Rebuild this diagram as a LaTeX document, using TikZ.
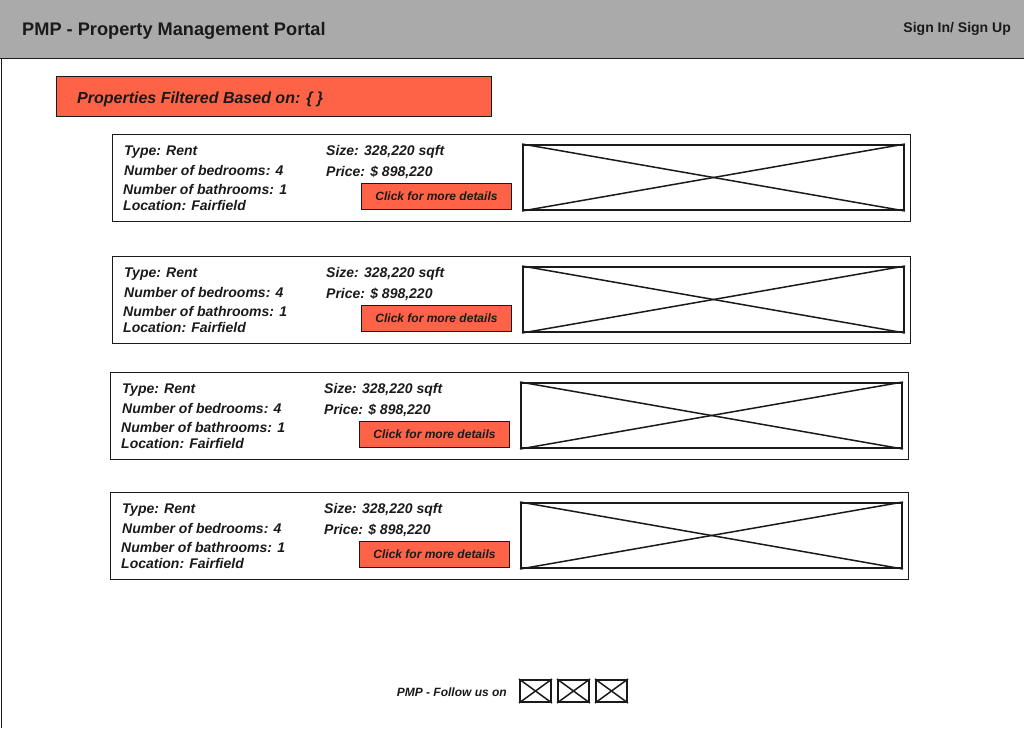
\documentclass[tikz,border=0pt]{standalone}
\usepackage{fontspec}
\setmainfont{Liberation Sans}
\usetikzlibrary{calc}
\usetikzlibrary{positioning}

\definecolor{hdrgray}{HTML}{AAAAAA}
\definecolor{tomato}{HTML}{FF6347}
\definecolor{ink}{HTML}{1A1A1A}

\tikzset{
  info/.style={anchor=west, inner sep=0pt, text=ink, font=\fontsize{14}{16}\selectfont\bfseries\itshape},
  detailbtn/.style={draw=ink, fill=tomato, line width=1pt, minimum width=150pt, minimum height=26pt, inner sep=0pt, text=ink, font=\fontsize{12}{14}\selectfont\bfseries\itshape},
  imgbox/.style={draw=ink, line width=2pt},
  cross/.style={draw=ink, line width=1.5pt}
}

\begin{document}
\begin{tikzpicture}[x=1pt, y=-1pt]
\useasboundingbox (0,0) rectangle (1024,728);

% header bar
\fill[hdrgray] (0,0) rectangle (1024,58);
\draw[ink, line width=1pt] (0,58) -- (1024,58);
\draw[ink, line width=1pt] (1,58) -- (1,728);
\node[anchor=west, inner sep=0pt, text=ink, font=\fontsize{18.2}{20}\selectfont\bfseries] (title) at (22,31) {PMP - Property Management Portal};
\node[anchor=east, inner sep=0pt, text=ink, font=\fontsize{14}{16}\selectfont\bfseries] (sign) at (1011,29) {Sign In/ Sign Up};

% filter banner
\node[draw=ink, fill=tomato, line width=1pt, anchor=north west, minimum width=435pt, minimum height=40pt] (filter) at (56,76) {};
\node[anchor=west, inner sep=0pt, text=ink, font=\fontsize{16}{18}\selectfont\bfseries\itshape] (filtertxt) at (77,99) {Properties Filtered Based on: \{ \}};

% property cards
\foreach \i/\cx/\cy in {1/112/134, 2/112/256, 3/110/372, 4/110/492}{
  \draw[ink, line width=1pt] (\cx,\cy) rectangle ++(798,87);
  \node[info] (type\i) at (\cx+12,\cy+18) {Type: Rent};
  \node[info] (bed\i) at (\cx+12,\cy+36) {Number of bedrooms: 4};
  \node[info] (bath\i) at (\cx+11,\cy+55) {Number of bathrooms: 1};
  \node[info] (loc\i) at (\cx+11,\cy+71) {Location: Fairfield};
  \node[info] (size\i) at (\cx+214,\cy+18) {Size: 328,220 sqft};
  \node[info] (price\i) at (\cx+214,\cy+38) {Price: \$ 898,220};
  \node[detailbtn, anchor=north west] (btn\i) at (\cx+249,\cy+49) {Click for more details};
  \node[imgbox, anchor=north west, minimum width=381pt, minimum height=65pt, inner sep=0pt] (img\i) at (\cx+410,\cy+10) {};
  \draw[cross] (img\i.north west) -- (img\i.south east);
  \draw[cross] (img\i.south west) -- (img\i.north east);
}

% footer
\node[anchor=east, inner sep=0pt, text=ink, font=\fontsize{12}{14}\selectfont\bfseries\itshape] (follow) at (507,692) {PMP - Follow us on};
\foreach \j/\ix in {1/519, 2/557, 3/595}{
  \node[imgbox, anchor=north west, minimum width=31pt, minimum height=22pt, inner sep=0pt] (icon\j) at (\ix,679) {};
  \draw[cross] (icon\j.north west) -- (icon\j.south east);
  \draw[cross] (icon\j.south west) -- (icon\j.north east);
}

\end{tikzpicture}
\end{document}
